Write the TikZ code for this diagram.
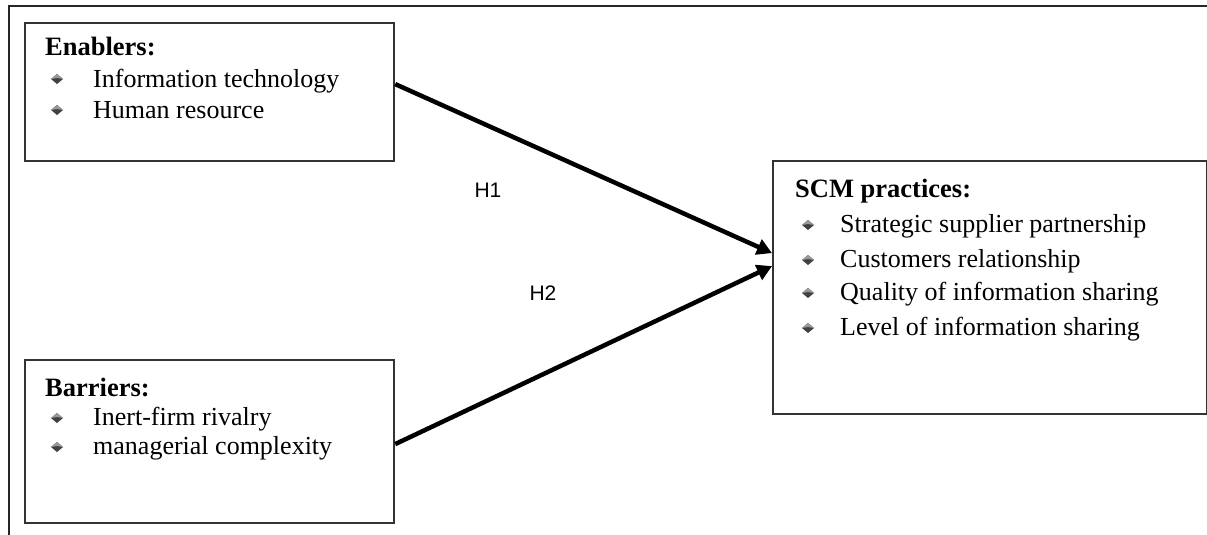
\documentclass[tikz,border=0pt]{standalone}
\usepackage{fontspec}
\setmainfont{Liberation Serif}
\newfontfamily\labelfont{Liberation Sans}
\usetikzlibrary{arrows.meta}
\begin{document}
\begin{tikzpicture}[x=1pt,y=-1pt,
  frame/.style={draw=black!85, line width=2pt},
  box/.style={draw=black!80, line width=2.2pt, rectangle, inner sep=0pt, anchor=north west},
  heading/.style={anchor=base west, inner sep=0pt, font=\fontsize{26.5}{30}\selectfont\bfseries},
  entry/.style={anchor=base west, inner sep=0pt, font=\fontsize{26}{30}\selectfont},
  hyp/.style={inner sep=0pt, font=\labelfont\fontsize{21}{24}\selectfont},
  link/.style={line width=4.5pt, -{Triangle[length=15pt,width=16pt]}},
  bulletmark/.pic={\fill[black!75] (-6,0) -- (0,-5) -- (6,0) -- (0,5) -- cycle;
                   \fill[black!40] (-6,0) -- (0,-5) -- (6,0) -- (0,-1) -- cycle;}
]
\useasboundingbox (0,0) rectangle (1207,535);

% outer frame (top and left edges)
\draw[frame] (8.5,535) -- (8.5,6.5) -- (1207,6.5);

% boxes
\node[box, minimum width=369pt, minimum height=138pt] (enab) at (24,22) {};
\node[box, minimum width=369pt, minimum height=163pt] (barr) at (24,359) {};
\node[box, minimum width=434pt, minimum height=253pt] (scm) at (772,160) {};

% Enablers
\node[heading] (enabT) at (45,56) {Enablers:};
\pic at (57,79) {bulletmark};
\node[entry] (enab1) at (93,87) {Information technology};
\pic at (57,110) {bulletmark};
\node[entry] (enab2) at (93,118) {Human resource};

% Barriers
\node[heading] (barrT) at (45,396) {Barriers:};
\pic at (57,418) {bulletmark};
\node[entry] (barr1) at (93,425) {Inert-firm rivalry};
\pic at (57,447) {bulletmark};
\node[entry] (barr2) at (93,454) {managerial complexity};

% SCM practices
\node[heading] (scmT) at (795,197) {SCM practices:};
\pic at (808,225) {bulletmark};
\node[entry] (scm1) at (840,232) {Strategic supplier partnership};
\pic at (808,260) {bulletmark};
\node[entry] (scm2) at (840,267) {Customers relationship};
\pic at (808,293) {bulletmark};
\node[entry] (scm3) at (840,300) {Quality of information sharing};
\pic at (808,328) {bulletmark};
\node[entry] (scm4) at (840,335) {Level of information sharing};

% hypotheses
\draw[link] ([yshift=8pt]enab.east) -- ([yshift=34.5pt]scm.west);
\draw[link] ([yshift=-2.5pt]barr.east) -- ([yshift=21.5pt]scm.west);
\node[hyp] (h1) at (488,190) {H1};
\node[hyp] (h2) at (543,293) {H2};
\end{tikzpicture}
\end{document}
